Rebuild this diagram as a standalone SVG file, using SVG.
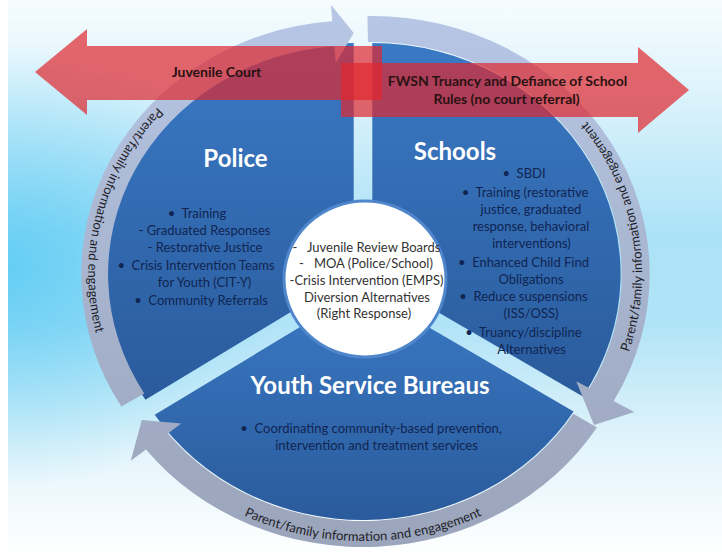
<svg xmlns="http://www.w3.org/2000/svg" width="722" height="556" viewBox="0 0 722 556">
<defs>
  <linearGradient id="bgV" x1="0" y1="0" x2="0" y2="1">
    <stop offset="0" stop-color="#f6fcfe"/>
    <stop offset="0.15" stop-color="#e0f4fc"/>
    <stop offset="0.42" stop-color="#ace2f7"/>
    <stop offset="0.58" stop-color="#b0e3f7"/>
    <stop offset="0.8" stop-color="#e2f4fb"/>
    <stop offset="1" stop-color="#ffffff"/>
  </linearGradient>
  <radialGradient id="bgL" cx="0" cy="0.48" r="0.4">
    <stop offset="0" stop-color="#3cc2f2" stop-opacity="0.65"/>
    <stop offset="1" stop-color="#3cc2f2" stop-opacity="0"/>
  </radialGradient>
  <linearGradient id="sec" x1="0" y1="0" x2="0" y2="1">
    <stop offset="0" stop-color="#3a79c4"/>
    <stop offset="1" stop-color="#2a5b9c"/>
  </linearGradient>
  <linearGradient id="band" gradientUnits="userSpaceOnUse" x1="0" y1="0" x2="0" y2="556">
    <stop offset="0" stop-color="#b7c7e6"/>
    <stop offset="0.6" stop-color="#a5b1ca"/>
    <stop offset="1" stop-color="#9aa4ba"/>
  </linearGradient>
  <path id="tpL" d="M220.94,60.09 A265.53,247 0 0 0 128.52,404.89"/>
  <path id="tpR" d="M605.98,399.5 A269.83,251 0 0 0 549.32,84.57"/>
  <path id="tpB" d="M171.44,467.19 A270.9,252 0 0 0 554.56,467.19"/>
  <style>
    .sec{fill:url(#sec)}
    .band{fill:url(#band)}
    text{font-family:Lato,'Open Sans','Liberation Sans',sans-serif}
    .title{font-weight:700;font-size:24px;fill:#ffffff;text-anchor:middle}
    .body{font-size:13px;fill:#102552;text-anchor:middle}
    .ctr{font-size:13px;fill:#333333;text-anchor:middle}
    .bandtxt{font-size:13px;fill:#1e1e28}
    .red{fill:#e0262d;fill-opacity:0.7}
    .redtxt{font-weight:700;font-size:14px;fill:#2a1212;text-anchor:middle}
  </style>
</defs>

<g id="background">
  <rect width="722" height="556" fill="url(#bgV)"/>
  <rect width="722" height="556" fill="url(#bgL)"/>
  <rect width="8" height="556" fill="#ffffff"/>
</g>

<g id="police">
  <path class="sec" d="M353.7,274 L145.43,399.8 A248.33,231 0 0 1 353.7,43 Z"/>
  <text class="title" x="235.5" y="167">Police</text>
  <text class="body" x="197" y="218" xml:space="preserve">•  Training</text>
  <text class="body" x="204.5" y="235">- Graduated Responses</text>
  <text class="body" x="205" y="252">- Restorative Justice</text>
  <text class="body" x="196" y="270" xml:space="preserve">•  Crisis Intervention Teams</text>
  <text class="body" x="204.5" y="287">for Youth (CIT-Y)</text>
  <text class="body" x="201" y="305" xml:space="preserve">•  Community Referrals</text>
</g>

<g id="schools">
  <path class="sec" d="M372.3,274 L372.3,43 A248.33,231 0 0 1 582.88,396.4 Z"/>
  <text class="title" x="455" y="160">Schools</text>
  <text class="body" x="524" y="178" xml:space="preserve">•  SBDI</text>
  <text class="body" x="525" y="197" xml:space="preserve">•  Training (restorative</text>
  <text class="body" x="531" y="214">justice, graduated</text>
  <text class="body" x="531" y="231">response, behavioral</text>
  <text class="body" x="531.5" y="248">interventions)</text>
  <text class="body" x="523.5" y="267" xml:space="preserve">•  Enhanced Child Find</text>
  <text class="body" x="531" y="284">Obligations</text>
  <text class="body" x="523.5" y="301" xml:space="preserve">•  Reduce suspensions</text>
  <text class="body" x="531" y="318">(ISS/OSS)</text>
  <text class="body" x="523.5" y="337" xml:space="preserve">•  Truancy/discipline</text>
  <text class="body" x="531.5" y="354">Alternatives</text>
</g>

<g id="youth-service-bureaus">
  <path class="sec" d="M363,289 L573.58,411.4 A248.33,231 0 0 1 154.73,414.8 Z"/>
  <text class="title" x="370" y="394">Youth Service Bureaus</text>
  <text class="body" x="371" y="433" xml:space="preserve">•  Coordinating community-based prevention,</text>
  <text class="body" x="376.5" y="450">intervention and treatment services</text>
</g>

<g id="connectors">
  <path class="band" d="M121.35,406.45 A272.51,253.5 0 0 1 332.32,21.28 L330.93,4.83 L353.7,33 L335.82,62.65 L334.43,46.21 A245.64,228.5 0 0 0 144.26,393.39 Z"/>
  <path class="band" d="M367.46,16.04 A277.35,258 0 0 1 613.69,401.04 L634.28,411.88 L594,425 L576.27,381.35 L589.37,388.24 A249.4,232 0 0 0 367.95,42.03 Z"/>
  <path class="band" d="M596.91,427.62 A277.35,258 0 0 1 145.94,449.61 L130.8,460.81 L141.78,420.1 L181.28,423.46 L167.82,433.42 A249.4,232 0 0 0 573.34,413.65 Z"/>
  <text class="bandtxt"><textPath href="#tpL" startOffset="50%" text-anchor="middle">Parent/family information and engagement</textPath></text>
  <text class="bandtxt"><textPath href="#tpR" startOffset="50%" text-anchor="middle">Parent/family information and engagement</textPath></text>
  <text class="bandtxt"><textPath href="#tpB" startOffset="50%" text-anchor="middle">Parent/family information and engagement</textPath></text>
</g>

<g id="center">
  <ellipse cx="365" cy="279" rx="81" ry="78" fill="#ffffff" stroke="#4f86cc" stroke-width="3"/>
  <text class="ctr" x="366.5" y="252" xml:space="preserve">-   Juvenile Review Boards</text>
  <text class="ctr" x="366" y="268" xml:space="preserve">-   MOA (Police/School)</text>
  <text class="ctr" x="366.5" y="285">-Crisis Intervention (EMPS)</text>
  <text class="ctr" x="367" y="302">Diversion Alternatives</text>
  <text class="ctr" x="364" y="318">(Right Response)</text>
</g>

<g id="juvenile-court">
  <polygon class="red" points="35,72 87,29 87,46 382,46 382,100 87,100 87,115"/>
  <text class="redtxt" x="216.5" y="77">Juvenile Court</text>
</g>

<g id="fwsn">
  <polygon class="red" points="341,63 638,63 638,47 689,90 638,133 638,117 341,117"/>
  <text class="redtxt" x="507.5" y="86">FWSN Truancy and Defiance of School</text>
  <text class="redtxt" x="506.5" y="104">Rules (no court referral)</text>
</g>
</svg>
